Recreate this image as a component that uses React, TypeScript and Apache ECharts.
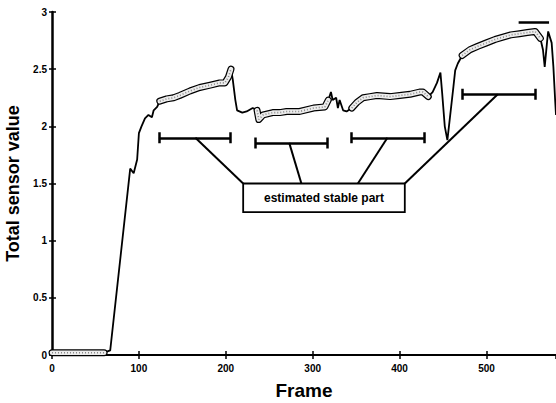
import React, { useEffect, useRef } from "react";
import * as echarts from "echarts";

// Main sensor curve (frame, total sensor value)
const frames = [0, 20, 40, 60, 67, 90, 94, 98, 100, 103, 107, 111, 115, 117, 121, 124, 132, 140, 147, 159, 170, 182, 193, 199, 203, 206, 208, 211, 213, 219, 224, 231, 236, 238, 243, 254, 262, 270, 285, 301, 314, 318, 321, 323, 327, 329, 331, 335, 339, 345, 351, 358, 366, 374, 389, 400, 412, 423, 427, 433, 438, 443, 447, 449, 452, 455, 458, 462, 464, 467, 472, 481, 490, 500, 510, 519, 528, 538, 547, 556, 562, 565, 567, 570, 571, 575, 577, 579, 580];
const values = [0.02, 0.02, 0.02, 0.02, 0.04, 1.63, 1.59, 1.71, 1.94, 2.0, 2.07, 2.1, 2.08, 2.14, 2.17, 2.22, 2.24, 2.25, 2.27, 2.31, 2.34, 2.36, 2.38, 2.38, 2.43, 2.5, 2.41, 2.23, 2.14, 2.12, 2.13, 2.16, 2.14, 2.06, 2.1, 2.12, 2.12, 2.13, 2.13, 2.16, 2.17, 2.23, 2.3, 2.23, 2.25, 2.16, 2.23, 2.14, 2.13, 2.16, 2.21, 2.25, 2.26, 2.27, 2.26, 2.27, 2.28, 2.3, 2.3, 2.26, 2.3, 2.38, 2.47, 2.29, 2.0, 1.88, 2.08, 2.35, 2.49, 2.55, 2.62, 2.67, 2.7, 2.73, 2.76, 2.78, 2.8, 2.81, 2.82, 2.83, 2.77, 2.67, 2.52, 2.76, 2.83, 2.73, 2.52, 2.23, 2.1];

// Noisy (banded) frame ranges
const bandStart = [0, 124, 236, 345, 472];
const bandEnd = [66, 206, 318, 433, 562];

// Estimated stable parts: start frame, end frame, level, connector anchor frame
const stableStart = [123, 234, 344, 472];
const stableEnd = [205, 317, 428, 556];
const stableLevel = [1.9, 1.855, 1.9, 2.28];
const anchorFrame = [165, 273, 386, 513];
// where each connector meets the label box top edge
const boxHitFrame = [220, 287, 352, 406];

// Label box (frames / values)
const boxLeft = 220;
const boxRight = 406;
const boxTop = 1.5;
const boxBottom = 1.25;
const boxLabel = "estimated stable part";

// Short horizontal mark near the top right
const topMarkStart = 537;
const topMarkEnd = 572;
const topMarkLevel = 2.91;

const xMin = 0;
const xMax = 580;
const xInterval = 100;
const yMin = 0;
const yMax = 3;
const yInterval = 0.5;
const capHalf = 0.048;

export default function App() {
  const ref = useRef<HTMLDivElement>(null);
  useEffect(() => {
    if (!ref.current) return;
    const chart = echarts.init(ref.current, undefined, { renderer: "svg" });
    const font = "'Liberation Sans', Arial, Helvetica, sans-serif";
    const curve = frames.map((f, i) => [f, values[i]]);
    const bands = bandStart.map((s, i) =>
      curve.filter((p) => p[0] >= s && p[0] <= bandEnd[i])
    );
    const segs: any[] = [];
    stableStart.forEach((s, i) => {
      const e = stableEnd[i];
      const y = stableLevel[i];
      segs.push({ coords: [[s, y], [e, y]] });
      segs.push({ coords: [[s, y - capHalf], [s, y + capHalf]] });
      segs.push({ coords: [[e, y - capHalf], [e, y + capHalf]] });
    });
    segs.push({ coords: [[topMarkStart, topMarkLevel], [topMarkEnd, topMarkLevel]] });
    const connectors = anchorFrame.map((a, i) => ({
      coords: [[a, stableLevel[i]], [boxHitFrame[i], boxTop]],
    }));

    const bandSeries: any[] = [];
    bands.forEach((b) => {
      bandSeries.push({
        type: "line", data: b, symbol: "none", silent: true, z: 3,
        lineStyle: { color: "#000", width: 7, join: "round", cap: "round" },
      });
      bandSeries.push({
        type: "line", data: b, symbol: "none", silent: true, z: 4,
        lineStyle: { color: "#ececec", width: 4.6, join: "round", cap: "round" },
      });
      bandSeries.push({
        type: "line", data: b, symbol: "none", silent: true, z: 5,
        lineStyle: { color: "#8a8a8a", width: 1.6, type: [1, 2] },
      });
    });

    chart.setOption({
      animation: false,
      grid: { left: 52, right: 0, top: 12, bottom: 48, containLabel: false, outerBoundsMode: "none" },
      xAxis: [
        {
          type: "value", min: xMin, max: xMax, interval: xInterval,
          name: "Frame", nameLocation: "middle", nameGap: 26,
          nameTextStyle: { fontFamily: font, fontWeight: "bold", fontSize: 19, color: "#000" },
          axisLine: { lineStyle: { color: "#000", width: 2 } },
          axisTick: { inside: true, length: 4, lineStyle: { color: "#000", width: 1.5 } },
          axisLabel: { fontFamily: font, fontWeight: "bold", fontSize: 10, color: "#000", margin: 8, showMaxLabel: false },
          splitLine: { show: false },
        },
        {
          type: "value", position: "top", min: xMin, max: xMax, interval: xInterval,
          axisLine: { lineStyle: { color: "#000", width: 2 } },
          axisTick: { inside: true, length: 4, lineStyle: { color: "#000", width: 1.5 } },
          axisLabel: { show: false },
          splitLine: { show: false },
        },
      ],
      yAxis: [
        {
          type: "value", min: yMin, max: yMax, interval: yInterval,
          name: "Total sensor value", nameLocation: "middle", nameGap: 27,
          nameTextStyle: { fontFamily: font, fontWeight: "bold", fontSize: 18, color: "#000" },
          axisLine: { show: true, lineStyle: { color: "#000", width: 2.5 } },
          axisTick: { show: true, inside: true, length: 4, lineStyle: { color: "#000", width: 1.5 } },
          axisLabel: { fontFamily: font, fontWeight: "bold", fontSize: 10, color: "#000", margin: 5 },
          splitLine: { show: false },
        },
        {
          type: "value", position: "right", min: yMin, max: yMax, interval: yInterval,
          axisLine: { show: false },
          axisTick: { show: true, inside: true, length: 3, lineStyle: { color: "#000", width: 1.5 } },
          axisLabel: { show: false },
          splitLine: { show: false },
        },
      ],
      series: [
        {
          type: "line", data: curve, symbol: "none", z: 2,
          lineStyle: { color: "#000", width: 1.8 },
          markArea: {
            silent: true,
            itemStyle: { color: "#fff", borderColor: "#000", borderWidth: 1.8, opacity: 1 },
            label: {
              show: true, position: "inside", formatter: boxLabel,
              fontFamily: font, fontWeight: "bold", fontSize: 12, color: "#000",
            },
            data: [[{ xAxis: boxLeft, yAxis: boxTop }, { xAxis: boxRight, yAxis: boxBottom }]],
          },
        },
        ...bandSeries,
        {
          type: "lines", coordinateSystem: "cartesian2d", data: segs, z: 6,
          lineStyle: { color: "#000", width: 2.5, opacity: 1 }, symbol: "none",
        },
        {
          type: "lines", coordinateSystem: "cartesian2d", data: connectors, z: 6,
          lineStyle: { color: "#000", width: 2, opacity: 1 }, symbol: "none",
        },
      ],
    });
    return () => chart.dispose();
  }, []);
  return (
    <div
      ref={ref}
      style={{ position: "fixed", left: 0, top: 0, width: 556, height: 403, background: "#fff" }}
    />
  );
}
